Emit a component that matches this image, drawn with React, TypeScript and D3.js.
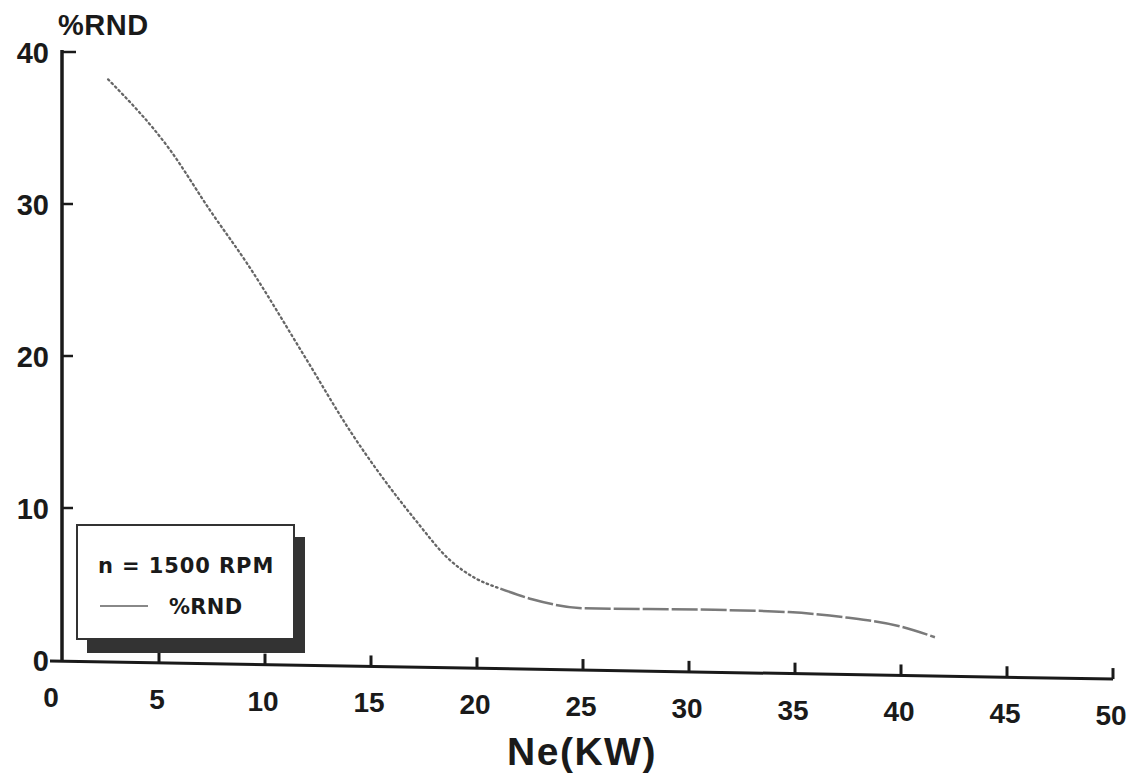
import React from 'react'
import * as d3 from 'd3'

// values
const ne = [2.6, 5.5, 7.4, 9.15, 11.9, 14.0, 17.1, 18.7, 19.9, 21.1, 22.6, 25.1, 31.2, 34.7, 37.4, 40.0, 41.6]
const rnd = [38.2, 33.6, 29.6, 26.1, 19.9, 15.1, 9.2, 6.6, 5.4, 4.7, 4.0, 3.4, 3.3, 3.15, 2.8, 2.2, 1.5]
const xTicks = [0, 5, 10, 15, 20, 25, 30, 35, 40, 45, 50]
const yTicks = [0, 10, 20, 30, 40]
const legendTitle = 'n = 1500 RPM'
const seriesName = '%RND'

const W = 1134,
	H = 774

const App = () => {
	const x = d3.scaleLinear().domain([0, 50]).range([53, 1113])
	const y = d3.scaleLinear().domain([0, 40]).range([660, 52])

	// the scanned x axis sags a little to the right
	const base = (px: number) => 661 + (px - 50) * 0.017

	const pts = ne.map((d, i) => [d, rnd[i]] as [number, number])
	const line = d3
		.line<[number, number]>()
		.x((d) => x(d[0]))
		.y((d) => y(d[1]))
		.curve(d3.curveMonotoneX)

	const split = 9
	const dotted = line(pts.slice(0, split + 1))
	const solid = line(pts.slice(split))

	const font = "'Liberation Sans', Arial, sans-serif"
	const legendFont = "'DejaVu Sans', sans-serif"

	return (
		<svg width={W} height={H} style={{ position: 'absolute', left: 0, top: 0, background: '#fff' }}>
			<g fontFamily={font} fontWeight="bold" fill="#1a1a1a">
				{/* y axis */}
				<line x1={62} x2={62} y1={50} y2={base(62)} stroke="#1a1a1a" strokeWidth={3.5} />
				{yTicks.map((t) => (
					<g key={t}>
						{t > 0 && <line x1={62} x2={t === 40 ? 76 : 73} y1={y(t)} y2={y(t)} stroke="#1a1a1a" strokeWidth={2.5} />}
						<text x={49} y={y(t) + 11} textAnchor="end" fontSize={29}>
							{t}
						</text>
					</g>
				))}
				<text x={58} y={35} fontSize={29} letterSpacing={0.5}>
					%RND
				</text>

				{/* x axis */}
				<line x1={50} x2={1113} y1={base(50)} y2={base(1113)} stroke="#1a1a1a" strokeWidth={3} />
				{xTicks.map((t) => (
					<g key={t}>
						{t > 0 && <line x1={x(t)} x2={x(t)} y1={base(x(t))} y2={base(x(t)) - 11} stroke="#1a1a1a" strokeWidth={3} />}
						<text x={x(t) - 2} y={base(x(t)) + 46} textAnchor="middle" fontSize={28}>
							{t}
						</text>
					</g>
				))}
				<text x={582} y={765} textAnchor="middle" fontSize={39} letterSpacing={1.5}>
					Ne(KW)
				</text>
			</g>

			{/* curve */}
			<path d={dotted ?? ''} fill="none" stroke="#666" strokeWidth={2.3} strokeDasharray="1.6,3.4" strokeLinecap="round" />
			<path d={solid ?? ''} fill="none" stroke="#7a7a7a" strokeWidth={2.5} strokeDasharray="26,3" />

			{/* legend */}
			<g fontFamily={legendFont} fontWeight="bold" fill="#1a1a1a">
				<rect x={87} y={537} width={218} height={116} fill="#333" />
				<rect x={77} y={525} width={217} height={114} fill="#fff" stroke="#333" strokeWidth={2} />
				<text x={98} y={573} fontSize={21} letterSpacing={0.9}>
					{legendTitle}
				</text>
				<line x1={100} x2={148} y1={606} y2={606} stroke="#888" strokeWidth={2} />
				<text x={169} y={614} fontSize={21} letterSpacing={0.3}>
					{seriesName}
				</text>
			</g>
		</svg>
	)
}

export default App
